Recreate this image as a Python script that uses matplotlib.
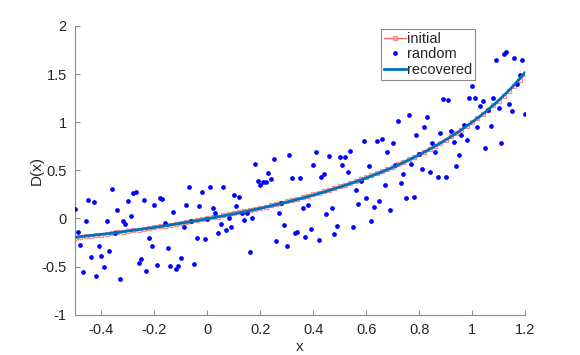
import numpy as np
import matplotlib
matplotlib.use("Agg")
import matplotlib.pyplot as plt

plt.rcParams['font.family'] = ['Liberation Sans', 'DejaVu Sans']

# initial curve D(x), sampled every 0.02
x_init = np.linspace(-0.5, 1.2, 86)
d_init = [-0.2000, -0.1935, -0.1870, -0.1803, -0.1736, -0.1667, -0.1597, -0.1525,
          -0.1453, -0.1379, -0.1304, -0.1228, -0.1150, -0.1071, -0.0991, -0.0909,
          -0.0826, -0.0741, -0.0654, -0.0566, -0.0476, -0.0385, -0.0291, -0.0196,
          -0.0099, 0.0000, 0.0101, 0.0204, 0.0309, 0.0417, 0.0526, 0.0638,
          0.0753, 0.0870, 0.0989, 0.1111, 0.1236, 0.1364, 0.1494, 0.1628,
          0.1765, 0.1905, 0.2048, 0.2195, 0.2346, 0.2500, 0.2658, 0.2821,
          0.2987, 0.3158, 0.3333, 0.3514, 0.3699, 0.3889, 0.4085, 0.4286,
          0.4493, 0.4706, 0.4925, 0.5152, 0.5385, 0.5625, 0.5873, 0.6129,
          0.6393, 0.6667, 0.6949, 0.7241, 0.7544, 0.7857, 0.8182, 0.8519,
          0.8868, 0.9231, 0.9608, 1.0000, 1.0408, 1.0833, 1.1277, 1.1739,
          1.2222, 1.2727, 1.3256, 1.3810, 1.4390, 1.5000]

# noisy samples, every 0.01
x_rand = np.linspace(-0.5, 1.2, 171)
d_rand = [0.100, -0.138, -0.273, -0.561, -0.031, 0.187, -0.401, 0.166, -0.602, -0.291,
          -0.394, -0.509, -0.028, -0.339, 0.308, -0.152, 0.093, -0.630, -0.031, -0.062,
          0.180, 0.028, 0.260, 0.280, -0.460, -0.419, 0.187, -0.543, -0.208, -0.291,
          0.145, -0.481, 0.208, 0.204, -0.042, -0.311, -0.495, 0.069, -0.529, -0.491,
          -0.415, -0.093, 0.135, 0.322, -0.028, -0.474, -0.204, 0.128, 0.280, -0.211,
          -0.003, 0.329, 0.107, 0.055, -0.149, -0.062, 0.325, -0.118, 0.007, -0.087,
          0.239, 0.128, 0.218, 0.062, -0.021, 0.059, -0.346, 0.007, 0.571, 0.388,
          0.346, 0.384, 0.384, 0.474, 0.408, 0.623, -0.239, 0.055, 0.159, -0.069,
          -0.284, 0.661, 0.419, -0.156, -0.145, 0.419, 0.104, -0.197, 0.145, -0.111,
          0.557, 0.689, -0.228, 0.426, 0.464, 0.045, 0.644, 0.104, -0.159, -0.083,
          0.637, 0.557, 0.637, 0.488, 0.699, -0.087, 0.294, 0.152, 0.391, 0.803,
          0.208, 0.540, -0.024, 0.114, 0.810, 0.180, 0.824, 0.346, 0.692, 0.083,
          0.779, 0.557, 1.010, 0.367, 0.467, 0.215, 1.080, 0.564, 0.228, 0.872,
          0.675, 0.512, 0.952, 1.052, 0.478, 0.779, 0.692, 0.429, 0.889, 1.246,
          0.426, 1.235, 0.907, 0.796, 0.540, 0.657, 0.872, 0.972, 0.817, 1.256,
          1.381, 1.256, 0.952, 1.170, 1.225, 0.730, 1.125, 0.962, 1.256, 1.644,
          1.152, 0.782, 1.706, 1.730, 1.187, 1.114, 1.671, 1.400, 1.494, 1.650,
          1.090]

# recovered curve, every 0.05
x_rec = np.linspace(-0.5, 1.2, 35)
d_rec = [-0.195, -0.180, -0.165, -0.150, -0.130, -0.112, -0.093, -0.072, -0.050, -0.027,
         -0.003, 0.022, 0.048, 0.076, 0.105, 0.137, 0.170, 0.205, 0.243, 0.283,
         0.326, 0.372, 0.420, 0.473, 0.530, 0.593, 0.660, 0.735, 0.815, 0.903,
         1.000, 1.105, 1.225, 1.360, 1.515]

xticks = [-0.4, -0.2, 0, 0.2, 0.4, 0.6, 0.8, 1, 1.2]
xticklabels = ['-0.4', '-0.2', '0', '0.2', '0.4', '0.6', '0.8', '1', '1.2']
yticks = [-1, -0.5, 0, 0.5, 1, 1.5, 2]
yticklabels = ['-1', '-0.5', '0', '0.5', '1', '1.5', '2']

fig = plt.figure(figsize=(5.8, 3.55), dpi=100)
ax = fig.add_axes([0.1293, 0.1135, 0.7759, 0.8133])

txt = '#262626'
axcol = '#8c8c8c'

ax.plot(x_init, d_init, color='#ff6b6b', lw=1.0, marker='s', ms=2.8,
        mfc='none', mec='#ff8c8c', mew=0.9, label='initial', zorder=2)
ax.plot(x_rand, d_rand, linestyle='none', marker='o', ms=2.4, color='#0000ff',
        mec='#0000ff', label='random', zorder=3)
ax.plot(x_rec, d_rec, color='#0072bd', lw=2.0, label='recovered', zorder=4)

ax.set_xlim(-0.5, 1.2)
ax.set_ylim(-1, 2)
ax.set_xticks(xticks)
ax.set_xticklabels(xticklabels)
ax.set_yticks(yticks)
ax.set_yticklabels(yticklabels)

for s in ['top', 'right']:
    ax.spines[s].set_visible(False)
for s in ['left', 'bottom']:
    ax.spines[s].set_color(axcol)
    ax.spines[s].set_linewidth(0.8)

ax.tick_params(direction='in', length=3.5, width=0.8, color=axcol,
               labelcolor=txt, labelsize=10.5, pad=6)

ax.set_xlabel('x', color=txt, fontsize=11, labelpad=2)
ax.set_ylabel('D(x)', color=txt, fontsize=11, labelpad=-2)

leg = ax.legend(loc='upper left', bbox_to_anchor=(0.68, 0.99), borderaxespad=0,
                fontsize=10.5, handlelength=1.5, handletextpad=0.1,
                labelspacing=0.1, borderpad=0.2, fancybox=False, framealpha=1,
                edgecolor='#8c8c8c')
leg.get_frame().set_linewidth(0.8)
for t in leg.get_texts():
    t.set_color(txt)

fig.savefig('out.png', dpi=100)
